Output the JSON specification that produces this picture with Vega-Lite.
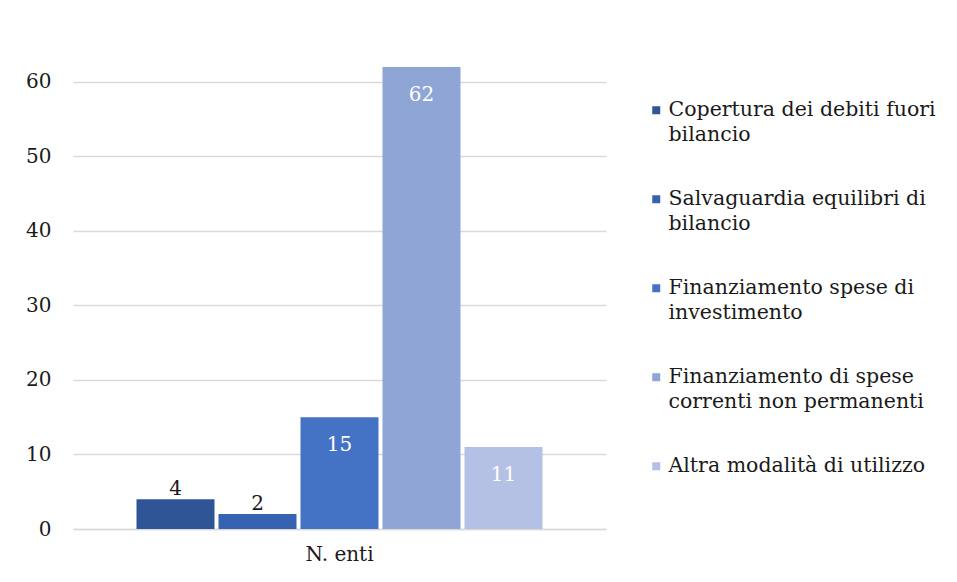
{
  "$schema": "https://vega.github.io/schema/vega-lite/v6.json",
  "autosize": {"type": "none"},
  "width": 533,
  "height": 462,
  "padding": {"left": 73, "top": 67, "right": 351, "bottom": 53},
  "background": "white",
  "data": {
    "values": [
      {"cat": "N. enti", "tipo": "Copertura dei debiti fuori bilancio", "n": 4},
      {"cat": "N. enti", "tipo": "Salvaguardia equilibri di bilancio", "n": 2},
      {"cat": "N. enti", "tipo": "Finanziamento spese di investimento", "n": 15},
      {"cat": "N. enti", "tipo": "Finanziamento di spese correnti non permanenti", "n": 62},
      {"cat": "N. enti", "tipo": "Altra modalità di utilizzo", "n": 11}
    ]
  },
  "encoding": {
    "x": {"field": "cat", "type": "nominal", "scale": {"paddingInner": 0, "paddingOuter": 0.1564}, "axis": {"title": null, "labelAngle": 0, "ticks": false, "domain": true, "domainColor": "#d9d9d9", "domainWidth": 1.5, "labelPadding": 15, "labelFontSize": 20, "labelColor": "#1a1a1a"}},
    "xOffset": {"field": "tipo", "type": "nominal", "sort": null, "scale": {"paddingInner": 0.0488, "paddingOuter": 0}},
    "y": {"field": "n", "type": "quantitative", "scale": {"domain": [0, 62], "nice": false}, "axis": {"title": null, "values": [0, 10, 20, 30, 40, 50, 60], "domain": false, "ticks": false, "grid": true, "gridColor": "#d9d9d9", "gridWidth": 1.5, "labelPadding": 22, "labelFontSize": 20, "labelColor": "#1a1a1a"}}
  },
  "layer": [
    {
      "mark": {"type": "bar", "stroke": "white", "strokeWidth": 0},
      "encoding": {
        "color": {
          "field": "tipo", "type": "nominal", "sort": null,
          "scale": {
            "domain": ["Copertura dei debiti fuori bilancio", "Salvaguardia equilibri di bilancio", "Finanziamento spese di investimento", "Finanziamento di spese correnti non permanenti", "Altra modalità di utilizzo"],
            "range": ["#2f5597", "#3762b2", "#4472c4", "#8ea5d6", "#b5c1e4"]
          },
          "legend": {
            "title": null, "orient": "none", "legendX": 573, "legendY": 33,
            "symbolType": "square", "symbolSize": 64, "symbolStrokeWidth": 0,
            "labelFontSize": 20.5, "labelColor": "#1a1a1a", "labelLimit": 400, "labelOffset": 2,
            "rowPadding": 43, "padding": 0,
            "labelExpr": "datum.label == 'Copertura dei debiti fuori bilancio' ? ['Copertura dei debiti fuori', 'bilancio'] : datum.label == 'Salvaguardia equilibri di bilancio' ? ['Salvaguardia equilibri di', 'bilancio'] : datum.label == 'Finanziamento spese di investimento' ? ['Finanziamento spese di', 'investimento'] : datum.label == 'Finanziamento di spese correnti non permanenti' ? ['Finanziamento di spese', 'correnti non permanenti'] : datum.label"
          }
        }
      }
    },
    {
      "transform": [{"filter": "datum.n < 10"}],
      "mark": {"type": "text", "baseline": "middle", "dy": -10, "fontSize": 20, "color": "#1a1a1a"},
      "encoding": {"text": {"field": "n", "type": "quantitative"}}
    },
    {
      "transform": [{"filter": "datum.n >= 10"}],
      "mark": {"type": "text", "baseline": "middle", "dy": 28, "fontSize": 20, "color": "white"},
      "encoding": {"text": {"field": "n", "type": "quantitative"}}
    }
  ],
  "config": {
    "font": "DejaVu Serif",
    "view": {"stroke": null},
    "style": {"guide-label": {"lineHeight": 25, "font": "DejaVu Serif"}}
  }
}
